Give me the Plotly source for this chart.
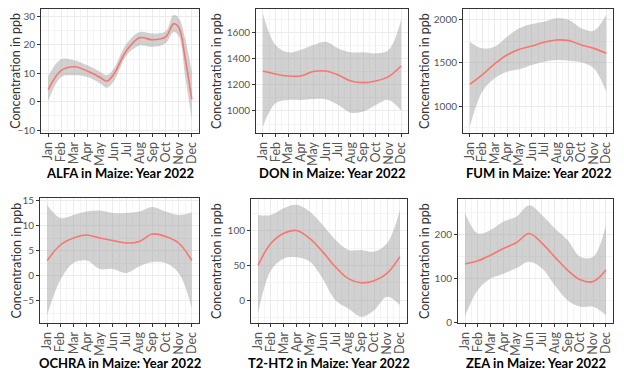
import plotly.graph_objects as go

month_labels = ["Jan", "Feb", "Mar", "Apr", "May", "Jun", "Jul", "Aug", "Sep", "Oct", "Nov", "Dec"]
months = [1, 2, 3, 4, 5, 6, 7, 8, 9, 10, 11, 12]

# ALFA (extra readings where the curve bends sharply)
alfa_x = [1, 2, 3, 4, 5, 5.5, 6, 7, 8, 9, 10, 10.6, 11, 11.5, 12]
alfa_fit = [4.3, 11.0, 12.3, 10.8, 8.5, 7.2, 9.5, 18.0, 22.5, 21.8, 22.8, 27.4, 26.2, 15.0, 0.8]
alfa_up = [9.0, 15.0, 14.6, 12.8, 10.5, 9.3, 11.5, 20.4, 24.5, 24.0, 24.8, 30.5, 29.5, 22.0, 10.5]
alfa_lo = [0.2, 8.7, 9.3, 8.7, 6.4, 4.9, 7.0, 16.3, 19.8, 19.3, 20.6, 24.5, 23.0, 8.5, -6.4]

don_fit = [1307, 1284, 1268, 1268, 1302, 1307, 1276, 1230, 1217, 1230, 1263, 1345]
don_up = [1748, 1506, 1450, 1467, 1505, 1531, 1480, 1450, 1450, 1442, 1467, 1697]
don_lo = [880, 1059, 1085, 1085, 1092, 1090, 1046, 987, 995, 1046, 1085, 1003]

fum_fit = [1250, 1358, 1485, 1588, 1654, 1692, 1735, 1762, 1754, 1704, 1665, 1608]
fum_up = [1742, 1665, 1685, 1800, 1896, 1946, 1973, 2012, 1992, 1896, 1869, 2050]
fum_lo = [762, 1165, 1319, 1396, 1423, 1473, 1511, 1531, 1523, 1504, 1435, 1165]

ochra_fit = [3.0, 6.1, 7.5, 8.1, 7.5, 7.0, 6.5, 6.8, 8.3, 7.8, 6.5, 3.0]
ochra_up = [14.1, 11.5, 12.1, 12.8, 13.0, 12.5, 12.5, 12.8, 13.7, 12.8, 12.1, 12.6]
ochra_lo = [-7.9, -0.9, 2.5, 3.0, 1.3, 1.3, 0.5, 1.8, 2.7, 2.5, 0.5, -6.5]

t2_fit = [50.7, 82, 96.6, 100.5, 89, 70, 48, 31, 25, 28, 38.6, 62.8]
t2_up = [123, 123, 133, 137.7, 128, 108.7, 87, 72.5, 72.5, 70, 82, 130]
t2_lo = [-19, 43, 60, 62, 55.6, 31.4, 0, -12, -24, -14.5, 5, -7]

zea_fit = [133, 140, 153, 168, 181, 202, 180, 149, 119, 97, 93, 119]
zea_up = [249, 202, 210, 229, 240, 266, 244, 214, 187, 149, 149, 221]
zea_lo = [15, 74, 100, 111, 123, 138, 123, 85, 51, 36, 36, 17]

# The page body has an 8px margin, so the figure is drawn 8px smaller and
# all screen-pixel positions below are shifted by that offset.
OFF = 8
W, H = 624 - OFF, 380 - OFF
FONT = "Lato, sans-serif"
panels = [
    # name, x, fit, up, lo, (left,right,top,bottom screen px), yrange, ydtick, yminor, ytitle_x
    ("ALFA", alfa_x, alfa_fit, alfa_up, alfa_lo, (41, 199, 8.5, 133), [-11, 32.8], 10, 5, 16),
    ("DON", months, don_fit, don_up, don_lo, (256, 408, 9, 133), [831, 1782], 200, 100, 217),
    ("FUM", months, fum_fit, fum_up, fum_lo, (463, 613, 9, 133), [689, 2119], 500, 250, 425),
    ("OCHRA", months, ochra_fit, ochra_up, ochra_lo, (40, 199, 198, 323), [-9.5, 15.5], 5, 2.5, 16),
    ("T2-HT2", months, t2_fit, t2_up, t2_lo, (251, 407, 199, 323), [-33, 146], 50, 25, 217),
    ("ZEA", months, zea_fit, zea_up, zea_lo, (458, 613, 199, 323), [-0.7, 280], 100, 50, 425),
]


def px_x(v):
    return (v - OFF) / W


def px_y(v):
    return 1 - (v - OFF) / H


fig = go.Figure()
layout = dict(
    width=W, height=H, margin=dict(l=0, r=0, t=0, b=0, autoexpand=False),
    paper_bgcolor="white", plot_bgcolor="white", showlegend=False,
    font=dict(family=FONT, size=11, color="#4d4d4d"),
)
annotations = []
for i, (name, xs, fit, up, lo, box, yr, ydt, yminor, ytx) in enumerate(panels):
    k = "" if i == 0 else str(i + 1)
    xa, ya = "x" + k, "y" + k
    l, r, t, b = box
    fig.add_trace(go.Scatter(x=xs, y=up, xaxis=xa, yaxis=ya, mode="lines",
                             line=dict(width=0, shape="spline"), hoverinfo="skip"))
    fig.add_trace(go.Scatter(x=xs, y=lo, xaxis=xa, yaxis=ya, mode="lines",
                             line=dict(width=0, shape="spline"), fill="tonexty",
                             fillcolor="rgba(153,153,153,0.45)", hoverinfo="skip"))
    fig.add_trace(go.Scatter(x=xs, y=fit, xaxis=xa, yaxis=ya, mode="lines",
                             line=dict(width=1.6, color="#F8766D", shape="spline")))
    layout["xaxis" + k] = dict(
        domain=[px_x(l), px_x(r)], anchor=ya, range=[0.45, 12.55], automargin=False,
        tickmode="array", tickvals=months, ticktext=month_labels, tickangle=-90,
        ticks="outside", ticklen=3, tickcolor="#333333",
        showgrid=True, gridcolor="#ebebeb", gridwidth=1,
        minor=dict(dtick=0.5, tick0=0.5, showgrid=True, gridcolor="#f4f4f4", gridwidth=1),
        showline=True, linecolor="#333333", linewidth=1, mirror=True,
        zeroline=False, tickfont=dict(size=12.5, color="#555555", family=FONT),
    )
    layout["yaxis" + k] = dict(
        domain=[px_y(b), px_y(t)], anchor=xa, range=yr, dtick=ydt, tick0=0,
        automargin=False,
        ticks="outside", ticklen=3, tickcolor="#333333",
        showgrid=True, gridcolor="#ebebeb", gridwidth=1,
        minor=dict(dtick=yminor, tick0=0, showgrid=True, gridcolor="#f4f4f4", gridwidth=1),
        showline=True, linecolor="#333333", linewidth=1, mirror=True,
        zeroline=False, tickfont=dict(size=10, color="#555555", family=FONT),
    )
    ymid = (t + b) / 2
    annotations.append(dict(text=name + " in Maize: Year 2022", x=px_x((l + r) / 2),
                            y=px_y(b + 40), xref="paper", yref="paper",
                            showarrow=False, xanchor="center", yanchor="middle",
                            font=dict(size=13, color="black", family=FONT, weight="bold")))
    annotations.append(dict(text="Concentration in ppb", x=px_x(ytx), y=px_y(ymid),
                            xref="paper", yref="paper", showarrow=False, textangle=-90,
                            xanchor="center", yanchor="middle",
                            font=dict(size=12.5, color="#333333", family=FONT)))
layout["annotations"] = annotations
fig.update_layout(**layout)
fig.write_html("out.html")
